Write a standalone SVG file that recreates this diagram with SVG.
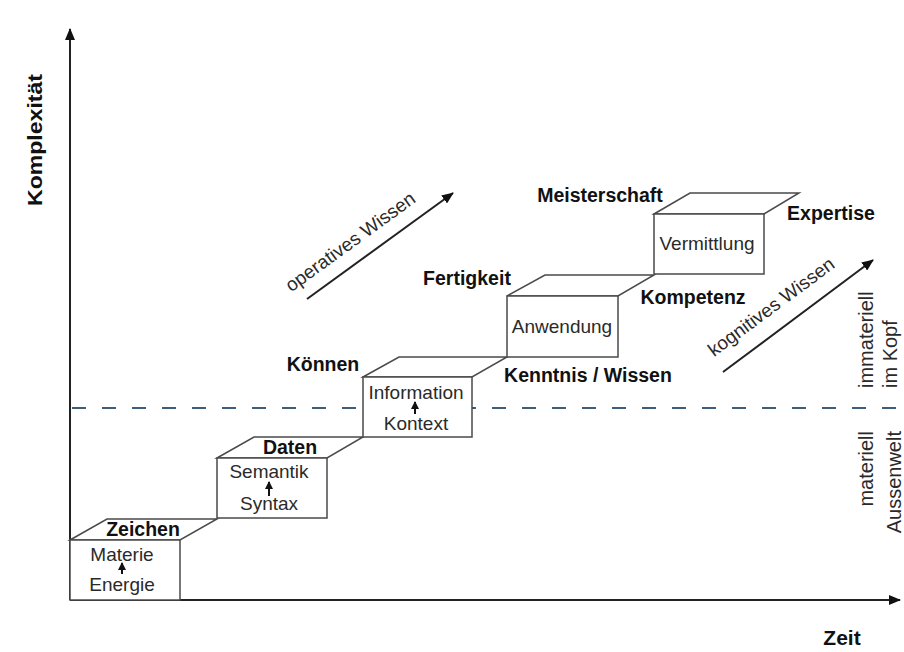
<svg xmlns="http://www.w3.org/2000/svg" width="904" height="652" viewBox="0 0 904 652">
<defs>
<style>
.face{fill:#ffffff;stroke:#4a4a4a;stroke-width:1.5;stroke-linejoin:miter}
.bold{font-family:"Liberation Sans",Arial,sans-serif;font-weight:bold;font-size:19.5px;fill:#111}
.reg{font-family:"Liberation Sans",Arial,sans-serif;font-size:19px;fill:#2a2a2a}
.side{font-family:"Liberation Sans",Arial,sans-serif;font-size:20px;fill:#2a2a2a}
.axis{stroke:#222;stroke-width:2;fill:none}
.diag{stroke:#222;stroke-width:2;fill:none}
.small{stroke:#111;stroke-width:2;fill:none}
.dash{stroke:#3d5f7c;stroke-width:2;stroke-dasharray:14 16;fill:none}
</style>
<marker id="ah" viewBox="0 0 12 10" refX="11" refY="5" markerWidth="12" markerHeight="10" markerUnits="userSpaceOnUse" orient="auto">
<path d="M0,0 L12,5 L0,10 z" fill="#111"/>
</marker>
<marker id="ahs" viewBox="0 0 8 8" refX="7" refY="4" markerWidth="8" markerHeight="8" markerUnits="userSpaceOnUse" orient="auto">
<path d="M0,0 L8,4 L0,8 z" fill="#111"/>
</marker>
</defs>
<rect width="904" height="652" fill="#ffffff"/>

<g id="connectors">
<line class="dash" x1="72" y1="408" x2="900" y2="408"/>
<line class="axis" x1="70" y1="600" x2="70" y2="29" marker-end="url(#ah)"/>
<line class="axis" x1="70" y1="600" x2="900" y2="600" marker-end="url(#ah)"/>
<line class="diag" x1="307" y1="299" x2="453" y2="193" marker-end="url(#ah)"/>
<line class="diag" x1="723" y1="372" x2="873" y2="260" marker-end="url(#ah)"/>
</g>

<g id="axis-labels">
<text class="bold" x="0" y="0" font-size="21" textLength="132" lengthAdjust="spacingAndGlyphs" transform="translate(42,206) rotate(-90)">Komplexität</text>
<text class="bold" x="842" y="645" text-anchor="middle" style="font-size:21px">Zeit</text>
</g>

<g id="box-zeichen">
<polygon class="face" points="70,540 107,519 217,519 180,540"/>
<rect class="face" x="70" y="540" width="110" height="60"/>
<text class="bold" x="143" y="536" text-anchor="middle">Zeichen</text>
<text class="reg" x="122" y="561" text-anchor="middle">Materie</text>
<line class="small" x1="122" y1="574" x2="122" y2="563" marker-end="url(#ahs)"/>
<text class="reg" x="122" y="591" text-anchor="middle">Energie</text>
</g>

<g id="box-daten">
<polygon class="face" points="217,458 254,437 363,437 327,458"/>
<rect class="face" x="217" y="458" width="110" height="60"/>
<text class="bold" x="290" y="454" text-anchor="middle">Daten</text>
<text class="reg" x="269" y="478" text-anchor="middle">Semantik</text>
<line class="small" x1="269" y1="496" x2="269" y2="482" marker-end="url(#ahs)"/>
<text class="reg" x="269" y="510" text-anchor="middle">Syntax</text>
</g>

<g id="box-information">
<polygon class="face" points="363,377 399,357 507,357 472,377"/>
<rect class="face" x="363" y="377" width="109" height="60"/>
<text class="reg" x="416" y="399" text-anchor="middle">Information</text>
<line class="small" x1="415" y1="414" x2="415" y2="402" marker-end="url(#ahs)"/>
<text class="reg" x="416" y="430" text-anchor="middle">Kontext</text>
</g>

<g id="box-anwendung">
<polygon class="face" points="507,296 545,275 654,275 618,296"/>
<rect class="face" x="507" y="296" width="111" height="61"/>
<text class="reg" x="562" y="333" text-anchor="middle">Anwendung</text>
</g>

<g id="box-vermittlung">
<polygon class="face" points="654,214 690,193 799,193 764,214"/>
<rect class="face" x="654" y="214" width="110" height="60"/>
<text class="reg" x="707" y="250" text-anchor="middle">Vermittlung</text>
</g>

<g id="labels">
<text class="bold" x="323" y="371" text-anchor="middle">Können</text>
<text class="bold" x="467" y="285" text-anchor="middle">Fertigkeit</text>
<text class="bold" x="600" y="202" text-anchor="middle">Meisterschaft</text>
<text class="bold" x="588" y="382" text-anchor="middle">Kenntnis / Wissen</text>
<text class="bold" x="693" y="304" text-anchor="middle">Kompetenz</text>
<text class="bold" x="831" y="220" text-anchor="middle">Expertise</text>
<text class="reg" x="0" y="0" text-anchor="middle" transform="translate(354,247) rotate(-36)">operatives Wissen</text>
<text class="reg" x="0" y="0" text-anchor="middle" transform="translate(775,312) rotate(-36.5)">kognitives Wissen</text>
<text class="side" x="0" y="0" transform="translate(873,388) rotate(-90)">immateriell</text>
<text class="side" x="0" y="0" transform="translate(897,388) rotate(-90)">im Kopf</text>
<text class="side" x="0" y="0" text-anchor="end" transform="translate(873,431) rotate(-90)">materiell</text>
<text class="side" x="0" y="0" text-anchor="end" transform="translate(901,431) rotate(-90)">Aussenwelt</text>
</g>
</svg>
